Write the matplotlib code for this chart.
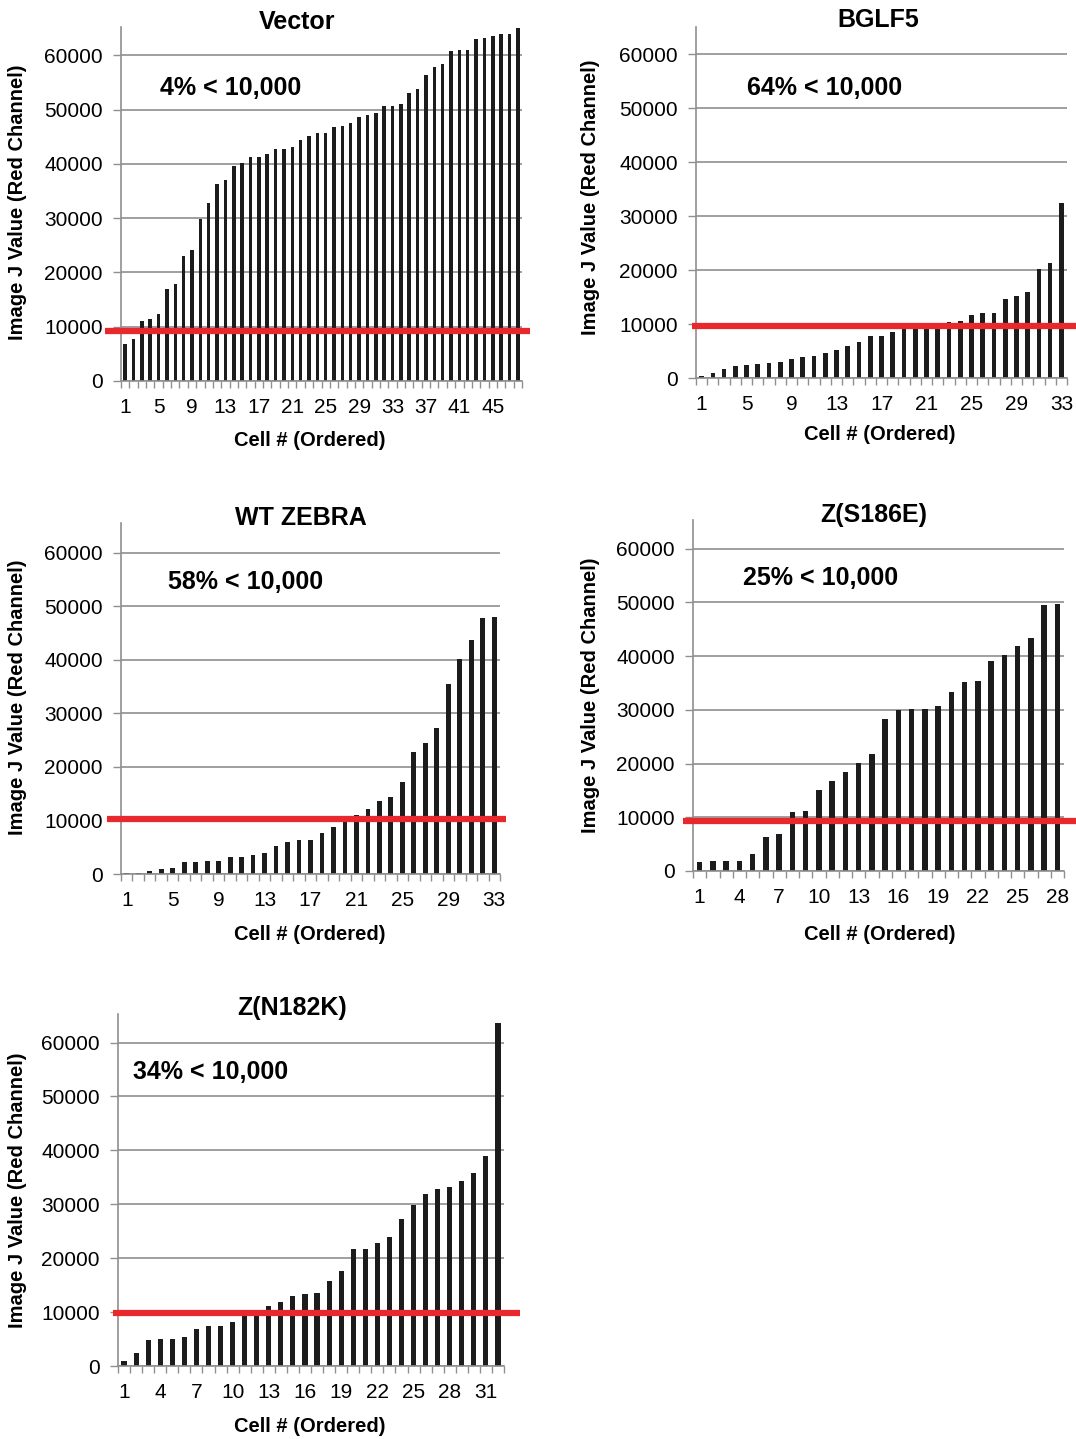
import numpy as np
import matplotlib.pyplot as plt
from matplotlib.ticker import FixedLocator

plt.rcParams["font.family"] = ["Liberation Sans", "DejaVu Sans"]

W, H = 1076, 1439

# ---- data ----
titles = ["Vector", "BGLF5", "WT ZEBRA", "Z(S186E)", "Z(N182K)"]
notes = ["4% < 10,000", "64% < 10,000", "58% < 10,000", "25% < 10,000", "34% < 10,000"]
thresholds = [9300, 9700, 10300, 9300, 9800]   # where the red line sits
tick_step = [4, 4, 4, 3, 3]

vector = [6800, 7700, 11000, 11500, 12300, 16900, 17800, 23100, 24200, 29900,
          32800, 36300, 37000, 39600, 40100, 41200, 41200, 41900, 42800, 42800,
          43100, 44400, 45200, 45600, 45600, 46800, 46900, 47600, 48600, 49000,
          49400, 50600, 50700, 51100, 53000, 53800, 56400, 57900, 58300, 60700,
          60900, 61000, 62900, 63100, 63600, 63900, 64000, 65000]
bglf5 = [400, 1000, 1600, 2200, 2500, 2600, 2800, 3000, 3500, 3900,
         4100, 4700, 5200, 5900, 6600, 7700, 7700, 8500, 9100, 9400,
         9600, 10100, 10300, 10600, 11700, 12000, 12100, 14600, 15200, 15900,
         20200, 21400, 32500]
wt_zebra = [100, 200, 600, 900, 1200, 2200, 2200, 2400, 2400, 3100,
            3200, 3600, 3900, 5200, 6000, 6400, 6400, 7700, 8700, 10200,
            11000, 12100, 13600, 14300, 17200, 22700, 24500, 27200, 35500, 40200,
            43700, 47900, 48000]
s186e = [1700, 1900, 1900, 1900, 3200, 6300, 6800, 10900, 11100, 15100,
         16700, 18400, 20200, 21700, 28300, 30000, 30100, 30200, 30800, 33400,
         35200, 35400, 39100, 40300, 41900, 43400, 49600, 49800]
n182k = [1000, 2400, 4800, 5000, 5100, 5400, 6800, 7500, 7500, 8200,
         9500, 10000, 11100, 11800, 13000, 13300, 13500, 15800, 17700, 21700,
         21700, 22800, 23900, 27200, 29800, 31900, 32900, 33200, 34300, 35800,
         39000, 63600]
series = [vector, bglf5, wt_zebra, s186e, n182k]

# ---- layout (pixels in the 1076x1439 canvas) ----
# axes box: left, right, top, bottom(y=0)
boxes = [(121, 522, 27, 381), (696, 1067, 27, 378), (121, 500, 523, 874),
         (693, 1064, 520, 871), (118, 504, 1014, 1366)]
ymax = [65200, 65100, 65550, 65360, 65300]
title_xy = [(297, 22), (878, 20), (301, 518), (874, 515), (292, 1008)]
note_xy = [(160, 88), (747, 88), (168, 582), (743, 578), (133, 1072)]
ylab_xy = [(18, 202), (590, 197), (18, 697), (590, 695), (18, 1190)]
xlab_xy = [(310, 440), (880, 435), (310, 934), (880, 934), (310, 1427)]
red_span = [(105, 530), (692, 1076), (107, 506), (683, 1076), (113, 520)]

RED = "#e8282c"
GRID = "#8f8f8f"
BAR = "#1c1c1c"

fig = plt.figure(figsize=(W / 100, H / 100), dpi=100)


def fx(px):
    return px / W


def fy(py):
    return 1 - py / H


for i, vals in enumerate(series):
    left, right, top, bottom = boxes[i]
    ax = fig.add_axes([fx(left), fy(bottom), (right - left) / W, (bottom - top) / H])
    n = len(vals)
    x = np.arange(1, n + 1)
    ax.bar(x, vals, width=0.42, color=BAR, zorder=2)
    ax.set_xlim(0.5, n + 0.5)
    ax.set_ylim(0, ymax[i])

    ax.set_yticks(np.arange(0, 60001, 10000))
    ax.set_yticklabels([str(v) for v in range(0, 60001, 10000)])
    ax.yaxis.grid(True, color=GRID, linewidth=1.2, zorder=0)
    ax.set_axisbelow(True)

    ax.set_xticks(x[::tick_step[i]])
    ax.set_xticklabels([str(v) for v in x[::tick_step[i]]])
    ax.xaxis.set_minor_locator(FixedLocator(np.arange(0.5, n + 1, 1)))
    ax.tick_params(axis="x", which="major", length=0, pad=12, labelsize=15)
    ax.tick_params(axis="x", which="minor", length=5, width=1, color=GRID, direction="out")
    ax.tick_params(axis="y", which="major", length=6, width=1, color=GRID, pad=7, labelsize=15)

    for s in ("top", "right"):
        ax.spines[s].set_visible(False)
    for s in ("left", "bottom"):
        ax.spines[s].set_color(GRID)
        ax.spines[s].set_linewidth(1.2)

    # red threshold line (runs a bit past the axes on both sides)
    x0, x1 = red_span[i]
    ax.plot([(x0 - left) / (right - left), (x1 - left) / (right - left)],
            [thresholds[i], thresholds[i]], color=RED, linewidth=4.5,
            transform=ax.get_yaxis_transform(), clip_on=False, zorder=3,
            solid_capstyle="butt")

    fig.text(fx(title_xy[i][0]), fy(title_xy[i][1]), titles[i], ha="center",
             va="center", fontsize=18, fontweight="bold")
    fig.text(fx(note_xy[i][0]), fy(note_xy[i][1]), notes[i], ha="left",
             va="center", fontsize=18, fontweight="bold")
    fig.text(fx(ylab_xy[i][0]), fy(ylab_xy[i][1]), "Image J Value (Red Channel)",
             ha="center", va="center", rotation=90, fontsize=14.5, fontweight="bold")
    fig.text(fx(xlab_xy[i][0]), fy(xlab_xy[i][1]), "Cell # (Ordered)", ha="center",
             va="center", fontsize=14.5, fontweight="bold")

fig.savefig("out.png", dpi=100)
